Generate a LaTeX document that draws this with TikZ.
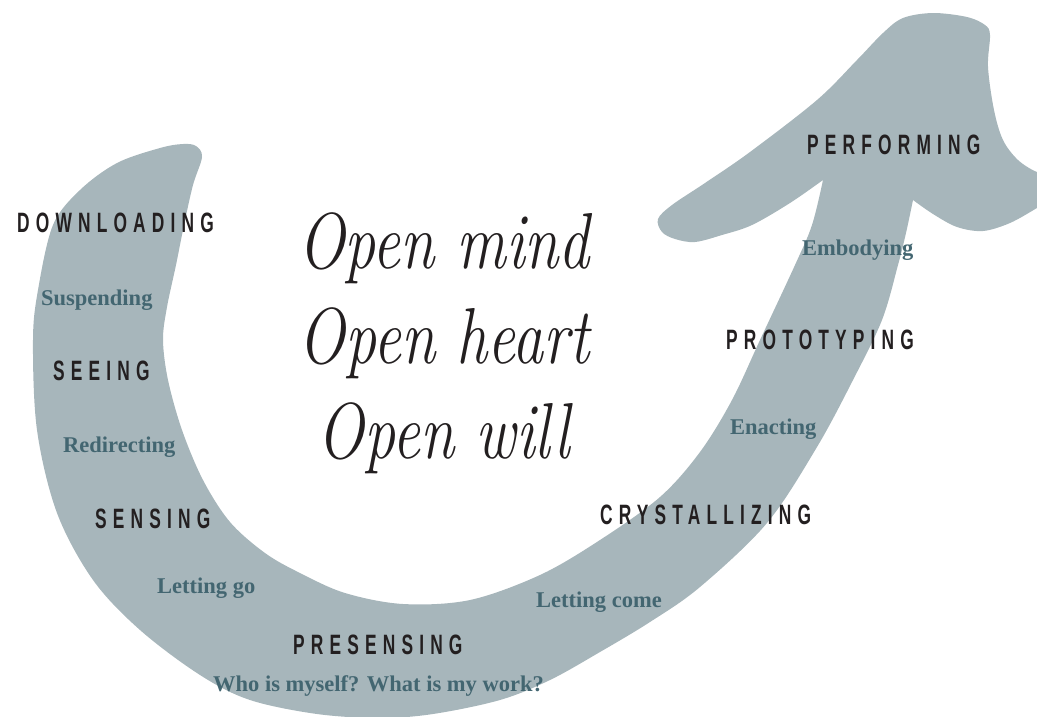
\documentclass[tikz,border=0pt]{standalone}
\usepackage{fontspec}
\newfontfamily\capfont[FakeStretch=0.62,LetterSpace=22]{Liberation Sans}
\newfontfamily\subfont{Liberation Serif}
\definecolor{ufill}{HTML}{A7B6BB}
\definecolor{capcol}{HTML}{231F20}
\definecolor{subcol}{HTML}{436671}
\begin{document}
\begin{tikzpicture}[x=1pt,y=-1pt,
  stage/.style={anchor=base west,inner sep=0pt,text=capcol,font=\capfont\bfseries\fontsize{28}{30}\selectfont},
  sub/.style={anchor=base west,inner sep=0pt,text=subcol,font=\subfont\bfseries\fontsize{22.5}{25}\selectfont},
  script/.style={anchor=base,inner sep=0pt,text=capcol,font=\itshape\fontsize{62}{66}\selectfont,yscale=1.28,transform shape}]
\useasboundingbox (0,0) rectangle (1037,716);
\fill[ufill] plot[smooth,tension=0.55] coordinates {
  (823,180) (812,225) (795,265) (760,340) (732,400) (700,452) (660,497) (600,540)
  (540,575) (470,600) (403,604) (345,593) (300,573) (265,553) (230,522) (203,480)
  (182,430) (168,380) (163,340) (167,307) (176,265) (184,225) (193,185) (202,157)
  (196,146) (183,144) (160,148) (117,163) (80,190) (53,225) (38,290) (33,340)
  (37,430) (57,513) (93,580) (140,630) (200,675) (250,700) (317,714) (380,718)
  (433,714) (500,700) (550,680) (600,652) (650,622) (700,587) (767,523) (817,447)
  (853,380) (882,320) (898,265) (906,233) (913,200)}
  -- plot[smooth,tension=0.55] coordinates {
  (913,200) (933,214) (957,227) (983,231) (1010,223) (1037,208) (1050,200)
  (1050,172) (1037,172) (1018,160) (1003,140) (994,110) (988,67) (990,35)
  (985,25) (967,17) (933,13) (903,18) (883,33) (857,60) (817,100) (750,152)
  (705,183) (672,205) (658,219) (662,232) (675,239) (695,242) (722,235)
  (752,225) (790,203) (823,180)} -- cycle;
\node[script] (om) at (444,268) {Open mind};
\node[script] (oh) at (444,363) {Open heart};
\node[script] (ow) at (444,458) {Open will};
\node[stage] (dl) at (17,232) {DOWNLOADING};
\node[sub] (su) at (41,305) {Suspending};
\node[stage] (se) at (53,380) {SEEING};
\node[sub] (rd) at (63,452) {Redirecting};
\node[stage] (sn) at (95,528) {SENSING};
\node[sub] (lg) at (157,593) {Letting go};
\node[stage] (pr) at (293,654) {PRESENSING};
\node[sub] (wh) at (213,691) {Who is myself? What is my work?};
\node[sub] (lc) at (536,607) {Letting come};
\node[stage] (cr) at (600,524) {CRYSTALLIZING};
\node[sub] (en) at (730,434) {Enacting};
\node[stage] (pt) at (726,349) {PROTOTYPING};
\node[sub] (em) at (802,255) {Embodying};
\node[stage] (pf) at (807,154) {PERFORMING};
\end{tikzpicture}
\end{document}
